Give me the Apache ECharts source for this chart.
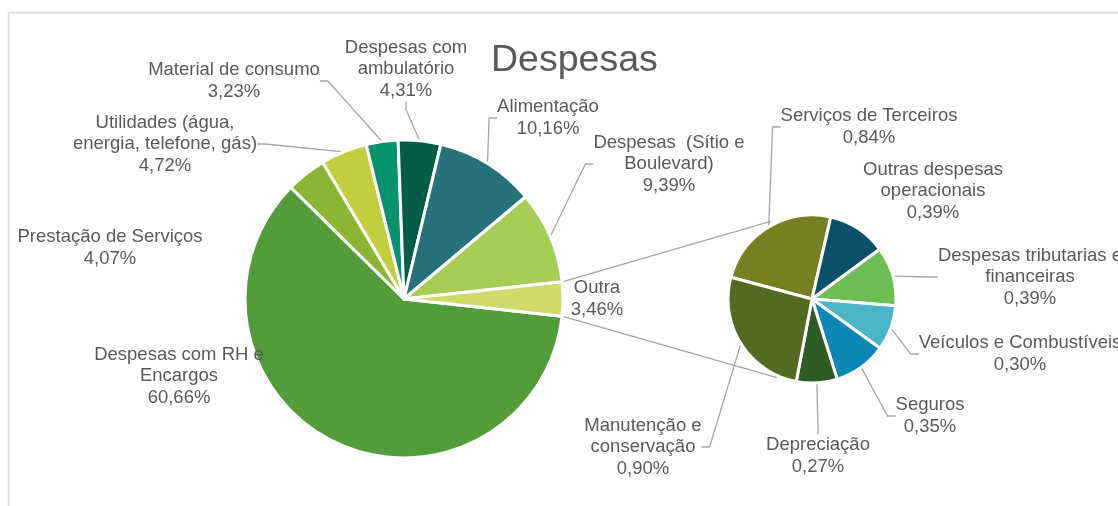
<!DOCTYPE html>
<html>
<head>
<meta charset="utf-8">
<script src="https://cdn.jsdelivr.net/npm/echarts@6/dist/echarts.min.js"></script>
<style>
  html, body { margin: 0; padding: 0; background: #fff; }
  #chart { width: 1118px; height: 506px; }
</style>
</head>
<body>
<div id="chart"></div>
<script>
// pie principal
const mainNames = ['Despesas com RH e\nEncargos', 'Prestação de Serviços', 'Utilidades (água,\nenergia, telefone, gás)',
  'Material de consumo', 'Despesas com\nambulatório', 'Alimentação', 'Despesas  (Sítio e\nBoulevard)', 'Outra']
const mainValues = [60.66, 4.07, 4.72, 3.23, 4.31, 10.16, 9.39, 3.46]
const mainColors = ['#529d39', '#8ab634', '#c2ce3b', '#05936f', '#035c48', '#27717a', '#a6ce54', '#d0da68']

// pie secundario (detalhe de "Outra")
const subNames = ['Serviços de Terceiros', 'Outras despesas\noperacionais', 'Despesas tributarias e\nfinanceiras',
  'Veículos e Combustíveis', 'Seguros', 'Depreciação', 'Manutenção e\nconservação']
const subValues = [0.84, 0.39, 0.39, 0.30, 0.35, 0.27, 0.90]
const subColors = ['#768020', '#0a5069', '#6dbe52', '#49b5c5', '#0c87b3', '#2e5d24', '#516c20']

// posicao dos rotulos (centro do bloco de texto) e se tem linha guia
const mainLabelPos = [[179, 376], [110, 248], [165, 144], [234, 81], [406, 69], [548, 118], [669, 164], [597, 299]]
const mainLabelLine = [false, false, true, true, true, true, true, false]
const subLabelPos = [[869, 127], [933, 191], [1030, 277], [1020, 354], [930, 416], [818, 456], [643, 447]]
const subLabelLine = [true, false, true, true, true, true, true]

const C1 = [404, 299], R1 = 159
const C2 = [812, 299], R2 = 84
const TEXT = '#595959'
const LINE = '#a6a6a6'

const chart = echarts.init(document.getElementById('chart'))

const total = mainValues.reduce((a, b) => a + b, 0)
const halfOutra = mainValues[mainValues.length - 1] / total * 180 // graus

function fmt(p) {
  return p.name + '\n' + p.value.toFixed(2).replace('.', ',') + '%'
}

function buildData(names, values, colors, lines) {
  return names.map((n, i) => ({
    name: n,
    value: values[i],
    itemStyle: { color: colors[i] },
    labelLine: { show: lines[i] },
  }))
}

const labelStyle = {
  show: true,
  position: 'outside',
  formatter: fmt,
  color: TEXT,
  fontSize: 18.5,
  lineHeight: 21.5,
  fontFamily: 'Liberation Sans, Arial, sans-serif',
  align: 'center',
}
const labelLineStyle = { length: 10, length2: 8, smooth: false, lineStyle: { color: LINE, width: 1.3 } }

// linhas que ligam a fatia "Outra" ao pie secundario
const rad = d => d * Math.PI / 180
const p1 = [C1[0] + R1 * Math.cos(rad(halfOutra)), C1[1] - R1 * Math.sin(rad(halfOutra))]
const p2 = [C1[0] + R1 * Math.cos(rad(halfOutra)), C1[1] + R1 * Math.sin(rad(halfOutra))]
const q1 = [C2[0] + (R2 + 4) * Math.cos(rad(-118)), C2[1] + (R2 + 4) * Math.sin(rad(-118))]
const q2 = [C2[0] + (R2 + 2) * Math.cos(rad(114)), C2[1] + (R2 + 2) * Math.sin(rad(114))]

const option = {
  animation: false,
  title: {
    text: 'Despesas',
    left: 486,
    top: 37,
    textStyle: { fontSize: 37.5, fontWeight: 'normal', color: TEXT, fontFamily: 'Liberation Sans, Arial, sans-serif' },
  },
  graphic: [
    { type: 'rect', z: 0, silent: true, shape: { x: 8.5, y: 12.5, width: 1300, height: 700 },
      style: { fill: 'none', stroke: '#d9d9d9', lineWidth: 1.5 } },
    { type: 'line', z: 0, silent: true, shape: { x1: p1[0], y1: p1[1], x2: q1[0], y2: q1[1] },
      style: { stroke: LINE, lineWidth: 1.3 } },
    { type: 'line', z: 0, silent: true, shape: { x1: p2[0], y1: p2[1], x2: q2[0], y2: q2[1] },
      style: { stroke: LINE, lineWidth: 1.3 } },
  ],
  series: [
    {
      type: 'pie',
      center: C1,
      radius: R1,
      startAngle: -halfOutra,
      clockwise: true,
      avoidLabelOverlap: false,
      emphasis: { disabled: true },
      itemStyle: { borderColor: '#fff', borderWidth: 3 },
      label: labelStyle,
      labelLine: labelLineStyle,
      labelLayout: p => ({ x: mainLabelPos[p.dataIndex][0], y: mainLabelPos[p.dataIndex][1], align: 'center', verticalAlign: 'middle' }),
      data: buildData(mainNames, mainValues, mainColors, mainLabelLine),
    },
    {
      type: 'pie',
      center: C2,
      radius: R2,
      startAngle: 165,
      clockwise: true,
      avoidLabelOverlap: false,
      emphasis: { disabled: true },
      itemStyle: { borderColor: '#fff', borderWidth: 3 },
      label: labelStyle,
      labelLine: labelLineStyle,
      labelLayout: p => ({ x: subLabelPos[p.dataIndex][0], y: subLabelPos[p.dataIndex][1], align: 'center', verticalAlign: 'middle' }),
      data: buildData(subNames, subValues, subColors, subLabelLine),
    },
  ],
}

chart.setOption(option)
</script>
</body>
</html>
